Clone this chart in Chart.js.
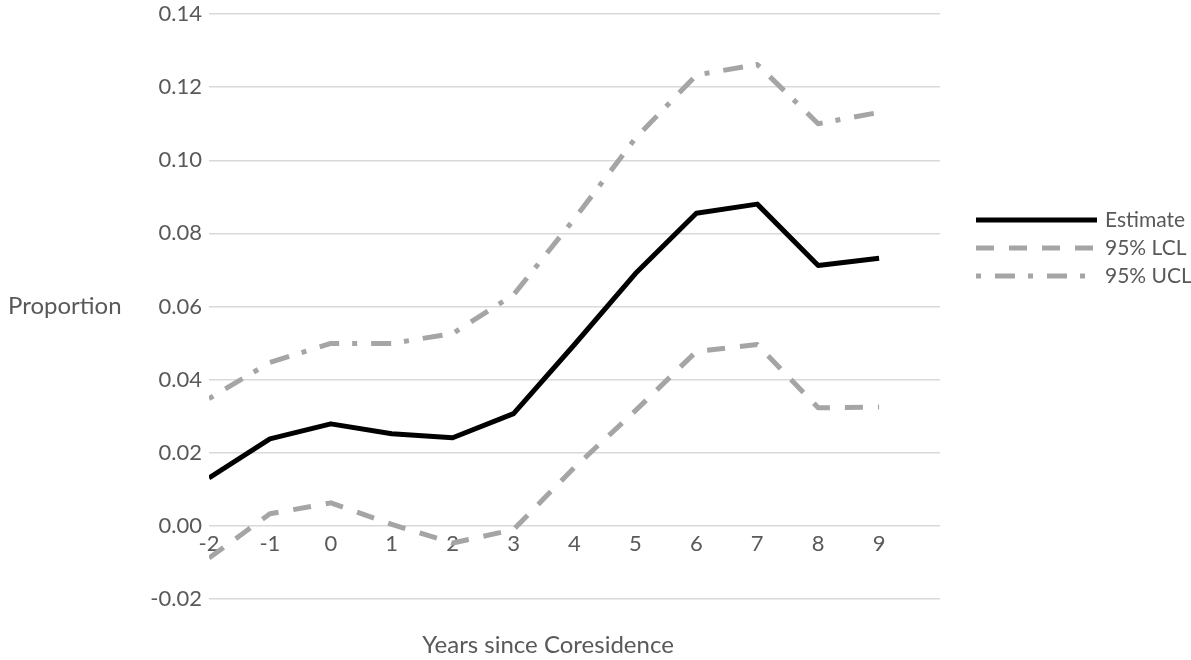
<!DOCTYPE html>
<html>
<head>
<meta charset="utf-8">
<script src="https://cdn.jsdelivr.net/npm/chart.js@4"></script>
<style>
  html, body { margin: 0; padding: 0; background: #fff; }
  #wrap { width: 1191px; height: 660px; }
</style>
</head>
<body>
<div id="wrap"><canvas id="chart" width="1191" height="660"></canvas></div>
<script>
// data
const years = [-2, -1, 0, 1, 2, 3, 4, 5, 6, 7, 8, 9];
const estimate = [0.0131, 0.0238, 0.0279, 0.0252, 0.0241, 0.0307, 0.0496, 0.0690, 0.0855, 0.0880, 0.0712, 0.0732];
const lcl = [-0.0088, 0.0033, 0.0063, 0.0004, -0.0047, -0.0010, 0.0160, 0.0315, 0.0477, 0.0496, 0.0323, 0.0325];
const ucl = [0.0348, 0.0447, 0.0499, 0.0499, 0.0526, 0.0632, 0.0840, 0.1060, 0.1233, 0.1262, 0.1100, 0.1131];
const seriesNames = ["Estimate", "95% LCL", "95% UCL"];

const FONT = "Lato, 'Open Sans', sans-serif";
const TXT = "#595959";
const GREY = "#a5a5a5";

// axis titles + legend drawn by hand (Excel-like placement)
const extras = {
  id: "extras",
  afterDraw(chart) {
    const ctx = chart.ctx;
    ctx.save();
    ctx.fillStyle = TXT;
    ctx.textBaseline = "middle";

    ctx.font = "24px " + FONT;
    ctx.textAlign = "left";
    ctx.fillText("Proportion", 8, 306);
    ctx.textAlign = "center";
    ctx.fillText("Years since Coresidence", 548, 645);

    // legend
    ctx.font = "21px " + FONT;
    ctx.textAlign = "left";
    chart.data.datasets.forEach((ds, i) => {
      const y = 220 + i * 28;
      ctx.beginPath();
      ctx.lineWidth = ds.borderWidth;
      ctx.strokeStyle = ds.borderColor;
      ctx.lineCap = "butt";
      ctx.setLineDash(ds.borderDash || []);
      ctx.moveTo(976, y);
      ctx.lineTo(1097, y);
      ctx.stroke();
      ctx.setLineDash([]);
      ctx.fillText(ds.label, 1105, y);
    });
    ctx.restore();
  }
};

new Chart(document.getElementById("chart"), {
  type: "line",
  data: {
    labels: years,
    datasets: [
      {
        label: seriesNames[0],
        data: estimate,
        borderColor: "#000000",
        borderWidth: 5,
        pointRadius: 0,
        tension: 0,
        borderJoinStyle: "round"
      },
      {
        label: seriesNames[1],
        data: lcl,
        borderColor: GREY,
        borderWidth: 5,
        borderDash: [18, 15],
        pointRadius: 0,
        tension: 0,
        borderJoinStyle: "round"
      },
      {
        label: seriesNames[2],
        data: ucl,
        borderColor: GREY,
        borderWidth: 5,
        borderDash: [5, 14, 20, 13],
        pointRadius: 0,
        tension: 0,
        borderJoinStyle: "round"
      }
    ]
  },
  options: {
    responsive: false,
    animation: false,
    events: [],
    layout: { padding: { left: 0, right: 251, top: 14, bottom: 61 } },
    plugins: {
      legend: { display: false },
      tooltip: { enabled: false }
    },
    scales: {
      x: {
        type: "linear",
        position: { y: 0 },
        min: -2,
        max: 10,
        grid: { display: false, drawTicks: false },
        border: { display: false },
        ticks: {
          stepSize: 1,
          padding: 5,
          color: TXT,
          font: { family: FONT, size: 22 },
          maxRotation: 0,
          callback: v => (v > 9 ? "" : String(v))
        }
      },
      y: {
        min: -0.02,
        max: 0.14,
        afterFit: s => { s.width = 209; s.paddingTop = 0; s.paddingBottom = 0; },
        grid: { color: "#d9d9d9", lineWidth: 1.5, drawTicks: false },
        border: { display: false },
        ticks: {
          stepSize: 0.02,
          padding: 7,
          color: TXT,
          font: { family: FONT, size: 22 },
          callback: v => (Math.abs(v) < 1e-9 ? 0 : v).toFixed(2)
        }
      }
    }
  },
  plugins: [extras]
});
</script>
</body>
</html>
